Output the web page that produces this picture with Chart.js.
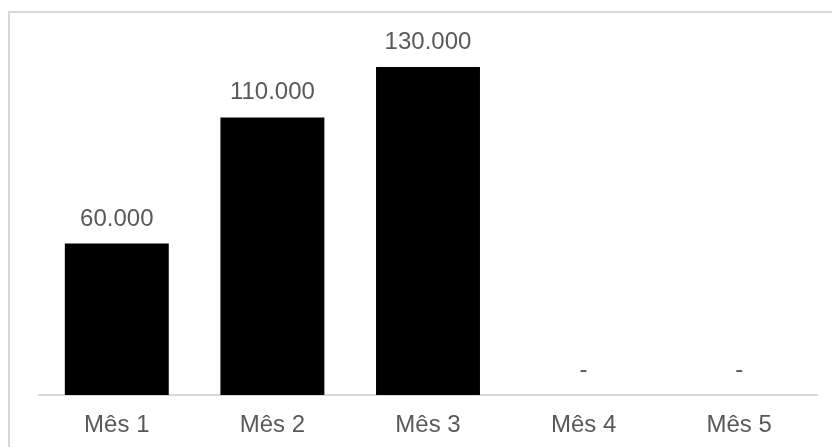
<!DOCTYPE html>
<html>
<head>
<meta charset="utf-8">
<script src="https://cdn.jsdelivr.net/npm/chart.js@4"></script>
<style>
  html, body { margin: 0; padding: 0; overflow: hidden; background: #fff; }
  #wrap { position: relative; width: 832px; height: 447px; }
  #frame { position: absolute; left: 8px; top: 11px; width: 900px; height: 500px;
           border: 2px solid #d9d9d9; box-sizing: border-box; }
  #chart { position: absolute; left: 0; top: 0; }
</style>
</head>
<body>
<div id="wrap">
  <div id="frame"></div>
  <canvas id="chart" width="832" height="447"></canvas>
</div>
<script>
const labels = ['Mês 1', 'Mês 2', 'Mês 3', 'Mês 4', 'Mês 5'];
const values = [60000, 110000, 130000, 0, 0];

const textColor = '#595959';
const fontFamily = '"Liberation Sans", Arial, sans-serif';

// thousands with a dot, zero shown as a dash
function fmt(v) {
    if (v === 0) return '-';
    return String(v).replace(/\B(?=(\d{3})+(?!\d))/g, '.');
}

const valueLabels = {
    id: 'valueLabels',
    afterDatasetsDraw(chart) {
        const ctx = chart.ctx;
        const meta = chart.getDatasetMeta(0);
        ctx.save();
        ctx.fillStyle = textColor;
        ctx.font = '24px ' + fontFamily;
        ctx.textAlign = 'center';
        ctx.textBaseline = 'alphabetic';
        meta.data.forEach((bar, i) => {
            ctx.fillText(fmt(values[i]), bar.x, bar.y - 18);
        });
        ctx.restore();
    }
};

const data = {
    labels: labels,
    datasets: [{
        data: values,
        backgroundColor: '#000000',
        borderWidth: 0,
        categoryPercentage: 1,
        barPercentage: 0.668
    }]
};

const config = {
    type: 'bar',
    data: data,
    plugins: [valueLabels],
    options: {
        responsive: false,
        animation: false,
        layout: {
            padding: { left: 39, right: 15, top: 16.5, bottom: 0 }
        },
        plugins: {
            legend: { display: false },
            tooltip: { enabled: false }
        },
        scales: {
            x: {
                grid: { display: false, drawTicks: false },
                border: { display: true, color: '#d9d9d9', width: 2 },
                ticks: {
                    color: textColor,
                    font: { family: fontFamily, size: 24 },
                    padding: 16
                },
                afterFit: (scale) => { scale.height = 52; }
            },
            y: {
                display: false,
                min: 0,
                max: 150000
            }
        }
    }
};

var chartElem = new Chart(
    document.getElementById('chart'),
    config
);
</script>
</body>
</html>
